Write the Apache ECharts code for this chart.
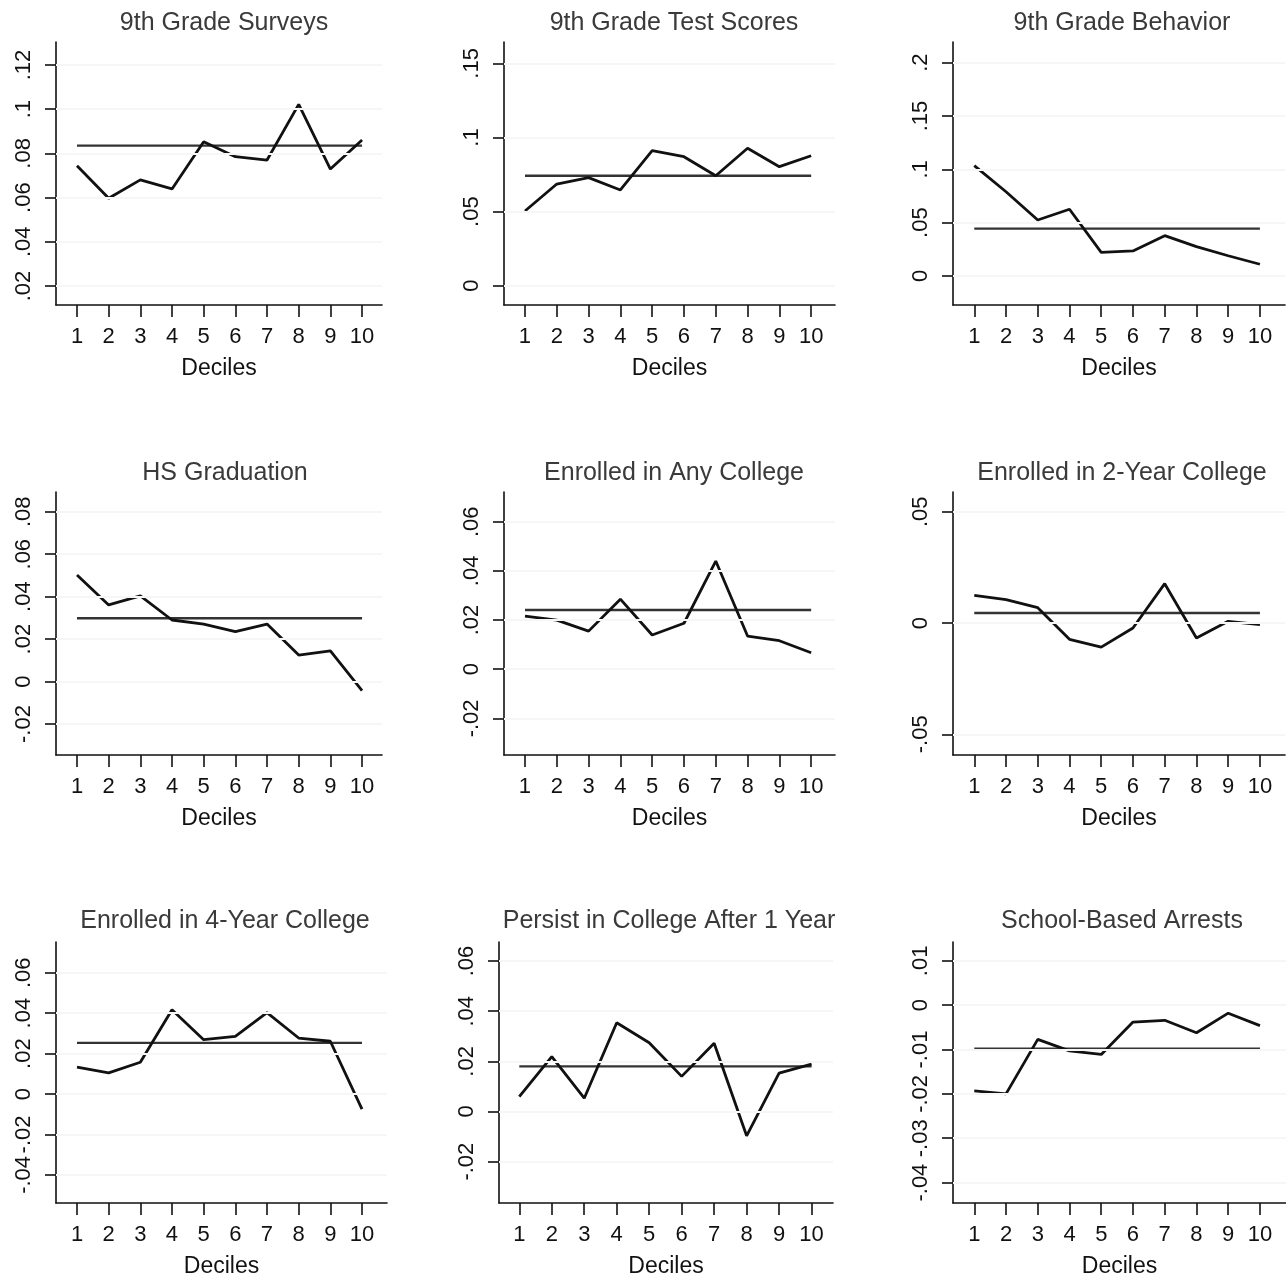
<!DOCTYPE html>
<html>
<head>
<meta charset="utf-8">
<script src="https://cdn.jsdelivr.net/npm/echarts@6/dist/echarts.min.js"></script>
<style>
html,body{margin:0;padding:0;background:#fff;}
#chart{width:1286px;height:1279px;}
</style>
</head>
<body>
<div id="chart"></div>
<script>
// ---- data ----
const deciles = [1, 2, 3, 4, 5, 6, 7, 8, 9, 10];
const xLabel = 'Deciles';
const titles = [
  '9th Grade Surveys', '9th Grade Test Scores', '9th Grade Behavior',
  'HS Graduation', 'Enrolled in Any College', 'Enrolled in 2-Year College',
  'Enrolled in 4-Year College', 'Persist in College After 1 Year', 'School-Based Arrests'
];
const surveys    = [0.0744, 0.0597, 0.0680, 0.0639, 0.0853, 0.0785, 0.0770, 0.1022, 0.0729, 0.0861];
const testScores = [0.0504, 0.0686, 0.0729, 0.0646, 0.0911, 0.0870, 0.0742, 0.0927, 0.0803, 0.0877];
const behavior   = [0.1035, 0.0790, 0.0525, 0.0626, 0.0222, 0.0235, 0.0378, 0.0275, 0.0190, 0.0110];
const hsGrad     = [0.0502, 0.0361, 0.0404, 0.0290, 0.0271, 0.0235, 0.0271, 0.0125, 0.0145, -0.0043];
const anyCollege = [0.0216, 0.0200, 0.0155, 0.0285, 0.0139, 0.0187, 0.0440, 0.0135, 0.0116, 0.0067];
const twoYear    = [0.0124, 0.0105, 0.0069, -0.0073, -0.0108, -0.0022, 0.0177, -0.0067, 0.0008, -0.0007];
const fourYear   = [0.0133, 0.0105, 0.0157, 0.0417, 0.0269, 0.0285, 0.0403, 0.0277, 0.0261, -0.0075];
const persist    = [0.0059, 0.0219, 0.0053, 0.0354, 0.0274, 0.0140, 0.0272, -0.0097, 0.0153, 0.0189];
const arrests    = [-0.0193, -0.0200, -0.0077, -0.0103, -0.0111, -0.0038, -0.0034, -0.0062, -0.0018, -0.0046];
const means = [0.0835, 0.0742, 0.0444, 0.0298, 0.0241, 0.0045, 0.0253, 0.0180, -0.0098];

const yTicks = [
  [0.02, 0.04, 0.06, 0.08, 0.10, 0.12],
  [0, 0.05, 0.10, 0.15],
  [0, 0.05, 0.10, 0.15, 0.20],
  [-0.02, 0, 0.02, 0.04, 0.06, 0.08],
  [-0.02, 0, 0.02, 0.04, 0.06],
  [-0.05, 0, 0.05],
  [-0.04, -0.02, 0, 0.02, 0.04, 0.06],
  [-0.02, 0, 0.02, 0.04, 0.06],
  [-0.04, -0.03, -0.02, -0.01, 0, 0.01]
];
const series = [surveys, testScores, behavior, hsGrad, anyCollege, twoYear, fourYear, persist, arrests];

// ---- layout (pixels / axis extents) ----
const grids = [
  {left: 56,  top: 42,  width: 326, height: 263},
  {left: 504, top: 42,  width: 331, height: 263},
  {left: 953, top: 42,  width: 332, height: 263},
  {left: 56,  top: 492, width: 326, height: 263},
  {left: 504, top: 492, width: 331, height: 263},
  {left: 953, top: 492, width: 332, height: 263},
  {left: 56,  top: 942, width: 331, height: 262},
  {left: 499, top: 942, width: 334, height: 263},
  {left: 953, top: 942, width: 333, height: 263}
];
const xExt = [
  [0.337, 10.63], [0.34, 10.75], [0.33, 10.79],
  [0.337, 10.63], [0.34, 10.75], [0.33, 10.79],
  [0.337, 10.79], [0.375, 10.66], [0.33, 10.82]
];
const yExt = [
  [0.0114, 0.1304], [-0.013, 0.1644], [-0.0272, 0.2194],
  [-0.0346, 0.0893], [-0.0349, 0.0721], [-0.0593, 0.0589],
  [-0.0539, 0.0752], [-0.0365, 0.0676], [-0.0446, 0.01425]
];
const titlePos = [
  [219, 6], [669, 6], [1117, 6],
  [220, 456], [669, 456], [1117, 456],
  [220, 904], [664, 904], [1117, 904]
];

function fmt(v) {
  const r = Math.round(v * 10000) / 10000;
  if (r === 0) return '0';
  let s = String(r);
  return s.replace(/^(-?)0\./, '$1.');
}

const FONT = '"Liberation Sans", Arial, Helvetica, sans-serif';
const option = {
  backgroundColor: '#fff',
  animation: false,
  title: [], grid: [], xAxis: [], yAxis: [], series: []
};

for (let i = 0; i < 9; i++) {
  option.title.push({
    text: titles[i], left: titlePos[i][0], top: titlePos[i][1], textAlign: 'center',
    textStyle: {fontFamily: FONT, fontSize: 25, fontWeight: 'normal', color: '#3a3a3a'}
  });
  option.grid.push(Object.assign({containLabel: false}, grids[i]));
  option.xAxis.push({
    type: 'value', gridIndex: i, min: xExt[i][0], max: xExt[i][1],
    name: xLabel, nameLocation: 'middle', nameGap: 52,
    nameTextStyle: {fontFamily: FONT, fontSize: 23, color: '#111'},
    axisLine: {show: true, onZero: false, lineStyle: {color: '#111', width: 1.6}},
    axisTick: {show: true, length: 12, customValues: deciles, lineStyle: {color: '#111', width: 1.6}},
    axisLabel: {customValues: deciles, margin: 21, fontFamily: FONT, fontSize: 22, color: '#111',
      formatter: v => String(Math.round(v))},
    splitLine: {show: false}
  });
  option.yAxis.push({
    type: 'value', gridIndex: i, min: yExt[i][0], max: yExt[i][1],
    axisLine: {show: true, onZero: false, lineStyle: {color: '#111', width: 1.6}},
    axisTick: {show: true, length: 11, customValues: yTicks[i], lineStyle: {color: '#111', width: 1.6}},
    axisLabel: {customValues: yTicks[i], rotate: 90, margin: 21, fontFamily: FONT, fontSize: 22, color: '#111',
      formatter: fmt},
    splitLine: {show: false}
  });
  // faint horizontal guide lines at the tick values
  option.series.push({
    type: 'line', xAxisIndex: i, yAxisIndex: i, data: [], silent: true,
    markLine: {symbol: 'none', silent: true, label: {show: false},
      lineStyle: {color: '#f6f6f6', width: 2, type: 'solid'},
      data: yTicks[i].map(t => ({yAxis: t}))}
  });
  option.series.push({
    type: 'line', xAxisIndex: i, yAxisIndex: i, symbol: 'none', silent: true,
    data: [[deciles[0], means[i]], [deciles[deciles.length - 1], means[i]]],
    lineStyle: {color: '#333', width: 2.4}
  });
  option.series.push({
    type: 'line', xAxisIndex: i, yAxisIndex: i, symbol: 'none', silent: true,
    data: deciles.map((d, k) => [d, series[i][k]]),
    lineStyle: {color: '#111', width: 2.8}
  });
}

const chart = echarts.init(document.getElementById('chart'), null, {renderer: 'canvas'});
chart.setOption(option);
</script>
</body>
</html>
